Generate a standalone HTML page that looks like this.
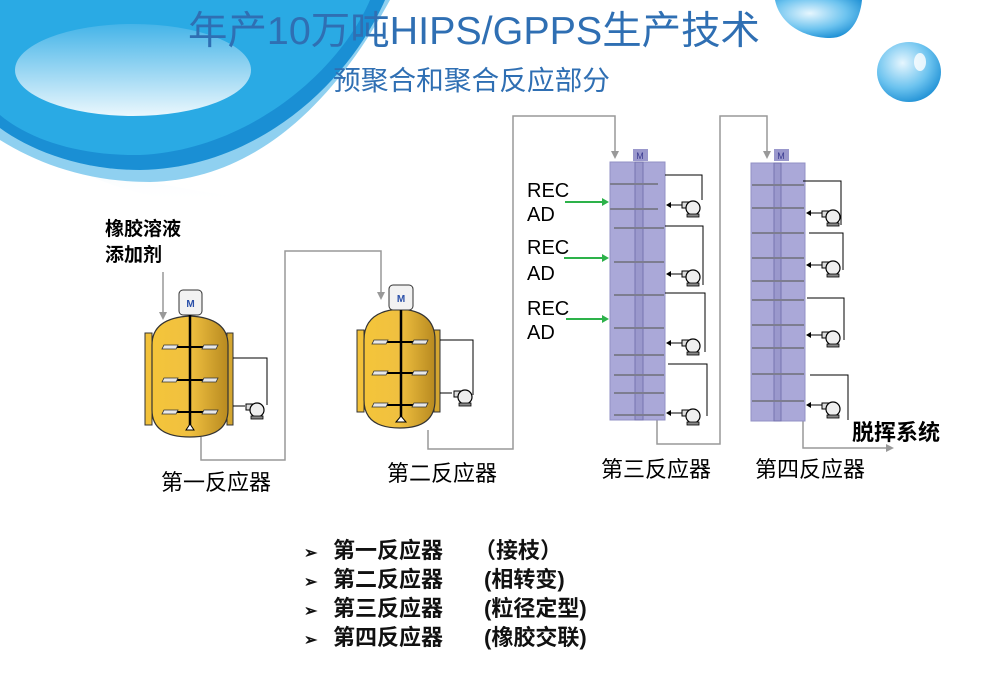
<!DOCTYPE html>
<html><head><meta charset="utf-8"><style>
html,body{margin:0;padding:0;background:#fff;}
svg{display:block;}
text{font-family:"Liberation Sans","Noto Sans CJK SC",sans-serif;}
</style></head><body>
<svg width="1000" height="674" viewBox="0 0 1000 674" xmlns="http://www.w3.org/2000/svg">
<defs>
<linearGradient id="below" x1="0" y1="0" x2="0" y2="1">
<stop offset="0" stop-color="#bfe3f6"/><stop offset="1" stop-color="#ffffff" stop-opacity="0"/>
</linearGradient>
<linearGradient id="lightc" x1="0" y1="0" x2="0" y2="1">
<stop offset="0" stop-color="#45b4e8"/><stop offset="1" stop-color="#eaf7fd"/>
</linearGradient>
<linearGradient id="yel" x1="0" y1="0" x2="1" y2="0">
<stop offset="0" stop-color="#f4c53a"/><stop offset="0.5" stop-color="#f0c040"/><stop offset="1" stop-color="#b88a20"/>
</linearGradient>
<radialGradient id="drop" cx="0.4" cy="0.35" r="0.7">
<stop offset="0" stop-color="#e6f6fe"/><stop offset="0.6" stop-color="#6cc3ef"/><stop offset="1" stop-color="#1d8fd4"/>
</radialGradient>
<g id="pump">
<rect x="-8" y="-6" width="8" height="6" fill="#ddd" stroke="#000" stroke-width="1"/>
<circle cx="3" cy="0" r="7" fill="#eee" stroke="#000" stroke-width="1.2"/>
<rect x="-3" y="6" width="12" height="3" fill="#888" stroke="#000" stroke-width="0.8"/>
</g>
<g id="paddle"><polygon points="0,0 14,0 12,4 -2,4" fill="#e8e8e8" stroke="#333" stroke-width="0.8"/></g>
</defs>
<!-- background swirl -->
<path d="M0,120 C60,170 150,215 260,200 C180,190 80,170 0,140 Z" fill="url(#below)"/>
<path d="M0,140 C40,165 90,182 150,182 C250,180 330,110 390,0 H0 Z" fill="#8fd0f0"/>
<path d="M0,0 H385 C350,80 260,168 140,170 C80,170 30,150 0,128 Z" fill="#1a8fd4"/>
<path d="M0,0 H370 C340,70 250,150 140,155 C80,156 30,140 0,115 Z" fill="#2aaae4"/>
<ellipse cx="133" cy="70" rx="118" ry="46" fill="url(#lightc)"/>
<!-- droplets -->
<path d="M775,0 C780,25 805,38 830,38 C850,38 860,20 862,0 Z" fill="url(#drop)"/>
<ellipse cx="909" cy="72" rx="32" ry="30" fill="url(#drop)"/>
<ellipse cx="920" cy="62" rx="6" ry="9" fill="#fff" opacity="0.8"/>
<!-- titles -->
<text x="188" y="44" font-size="39" fill="#2f6fb3" textLength="572" lengthAdjust="spacingAndGlyphs">年产10万吨HIPS/GPPS生产技术</text>
<text x="333" y="90" font-size="27" fill="#2f6fb3" textLength="277" lengthAdjust="spacingAndGlyphs">预聚合和聚合反应部分</text>

<!-- piping -->
<g fill="none" stroke="#999" stroke-width="1.5">
<polyline points="201,437 201,460 285,460 285,251 381,251 381,296"/>
<polyline points="163,272 163,316"/>
<polyline points="428,430 428,449 513,449 513,116 615,116 615,155"/>
<polyline points="657,420 657,444 720,444 720,116 767,116 767,155"/>
<polyline points="803,421 803,448 890,448"/>
</g>
<g fill="#999">
<polygon points="159,312 167,312 163,320"/>
<polygon points="377,292 385,292 381,300"/>
<polygon points="611,151 619,151 615,159"/>
<polygon points="763,151 771,151 767,159"/>
<polygon points="886,444 894,448 886,452"/>
</g>

<!-- reactor 1 -->
<rect x="145" y="333" width="7" height="92" fill="#f2c13a" stroke="#333" stroke-width="1"/>
<rect x="227" y="333" width="6" height="92" fill="#d4a630" stroke="#333" stroke-width="1"/>
<path d="M152,345 Q152,318 190,316 Q228,318 228,345 V410 Q228,437 190,437 Q152,437 152,410 Z" fill="url(#yel)" stroke="#333" stroke-width="1.2"/>
<rect x="179" y="290" width="23" height="25" rx="4" fill="#f2f2f2" stroke="#333"/>
<text x="190.5" y="307" font-size="10" fill="#2a4fa8" text-anchor="middle" font-weight="bold">M</text>
<line x1="190" y1="315" x2="190" y2="428" stroke="#000" stroke-width="2.5"/>
<g stroke="#000" stroke-width="2"><line x1="168" y1="347" x2="212" y2="347"/><line x1="168" y1="380" x2="212" y2="380"/><line x1="168" y1="412" x2="212" y2="412"/></g>
<use href="#paddle" x="164" y="345"/><use href="#paddle" x="204" y="345"/>
<use href="#paddle" x="164" y="378"/><use href="#paddle" x="204" y="378"/>
<use href="#paddle" x="164" y="410"/><use href="#paddle" x="204" y="410"/>
<polygon points="186,430 190,424 194,430" fill="#fff" stroke="#000"/>
<polyline points="233,358 267,358 267,405" fill="none" stroke="#000" stroke-width="1"/>
<line x1="233" y1="406" x2="245" y2="406" stroke="#000"/>
<use href="#pump" x="254" y="410"/>
<text x="105" y="235" font-size="19" font-weight="bold" fill="#000">橡胶溶液</text>
<text x="105" y="261" font-size="19" font-weight="bold" fill="#000">添加剂</text>
<text x="216" y="490" font-size="22" fill="#000" text-anchor="middle">第一反应器</text>

<!-- reactor 2 -->
<rect x="357" y="330" width="7" height="82" fill="#f2c13a" stroke="#333" stroke-width="1"/>
<rect x="434" y="330" width="6" height="82" fill="#d4a630" stroke="#333" stroke-width="1"/>
<path d="M364,340 Q364,311 400,309 Q435,311 435,340 V400 Q435,428 400,428 Q364,428 364,400 Z" fill="url(#yel)" stroke="#333" stroke-width="1.2"/>
<rect x="389" y="285" width="24" height="25" rx="4" fill="#f2f2f2" stroke="#333"/>
<text x="401" y="302" font-size="10" fill="#2a4fa8" text-anchor="middle" font-weight="bold">M</text>
<line x1="401" y1="310" x2="401" y2="420" stroke="#000" stroke-width="2.5"/>
<g stroke="#000" stroke-width="2"><line x1="378" y1="342" x2="422" y2="342"/><line x1="378" y1="373" x2="422" y2="373"/><line x1="378" y1="405" x2="422" y2="405"/></g>
<use href="#paddle" x="374" y="340"/><use href="#paddle" x="414" y="340"/>
<use href="#paddle" x="374" y="371"/><use href="#paddle" x="414" y="371"/>
<use href="#paddle" x="374" y="403"/><use href="#paddle" x="414" y="403"/>
<polygon points="396,422 401,416 406,422" fill="#fff" stroke="#000"/>
<polyline points="440,340 473,340 473,395" fill="none" stroke="#000"/>
<line x1="440" y1="393" x2="452" y2="393" stroke="#000"/>
<use href="#pump" x="462" y="397"/>
<text x="442" y="481" font-size="22" fill="#000" text-anchor="middle">第二反应器</text>

<!-- column 3 -->
<rect x="610" y="162" width="55" height="258" fill="#aaa8d8" stroke="#9290c4"/>
<rect x="635" y="162" width="8" height="258" fill="#9a98cc" stroke="#7775b0"/>
<rect x="633" y="149" width="15" height="12" fill="#9a98cc"/>
<text x="640" y="159" font-size="9" fill="#3a3a90" text-anchor="middle" font-family="Liberation Serif">M</text>
<g stroke="#7d7d90" stroke-width="2">
<line x1="610" y1="184" x2="658" y2="184"/><line x1="610" y1="209" x2="658" y2="209"/><line x1="614" y1="228" x2="664" y2="228"/>
<line x1="614" y1="262" x2="664" y2="262"/><line x1="614" y1="295" x2="664" y2="295"/><line x1="614" y1="328" x2="664" y2="328"/>
<line x1="614" y1="355" x2="664" y2="355"/><line x1="614" y1="375" x2="664" y2="375"/><line x1="614" y1="393" x2="664" y2="393"/><line x1="614" y1="415" x2="664" y2="415"/>
</g>
<g fill="none" stroke="#000" stroke-width="1">
<polyline points="665,175 702,175 702,200"/><polyline points="665,226 703,226 703,285"/>
<polyline points="665,293 705,293 705,352"/><polyline points="668,364 707,364 707,416"/>
</g>
<g stroke="#000"><line x1="668" y1="205" x2="682" y2="205"/><line x1="668" y1="274" x2="682" y2="274"/><line x1="668" y1="343" x2="682" y2="343"/><line x1="668" y1="413" x2="682" y2="413"/></g>
<g fill="#000"><polygon points="666,205 671,202 671,208"/><polygon points="666,274 671,271 671,277"/><polygon points="666,343 671,340 671,346"/><polygon points="666,413 671,410 671,416"/></g>
<use href="#pump" x="690" y="208"/><use href="#pump" x="690" y="277"/><use href="#pump" x="690" y="346"/><use href="#pump" x="690" y="416"/>
<g stroke="#2db24a" stroke-width="2"><line x1="565" y1="202" x2="604" y2="202"/><line x1="564" y1="258" x2="604" y2="258"/><line x1="566" y1="319" x2="604" y2="319"/></g>
<g fill="#2db24a"><polygon points="609,202 602,198 602,206"/><polygon points="609,258 602,254 602,262"/><polygon points="609,319 602,315 602,323"/></g>
<g font-size="20" fill="#000">
<text x="527" y="197">REC</text><text x="527" y="221">AD</text>
<text x="527" y="254">REC</text><text x="527" y="280">AD</text>
<text x="527" y="315">REC</text><text x="527" y="339">AD</text>
</g>
<text x="656" y="477" font-size="22" fill="#000" text-anchor="middle">第三反应器</text>

<!-- column 4 -->
<rect x="751" y="163" width="54" height="258" fill="#aaa8d8" stroke="#9290c4"/>
<rect x="774" y="163" width="7" height="258" fill="#9a98cc" stroke="#7775b0"/>
<rect x="774" y="149" width="15" height="12" fill="#9a98cc"/>
<text x="781" y="159" font-size="9" fill="#3a3a90" text-anchor="middle" font-family="Liberation Serif">M</text>
<g stroke="#7d7d90" stroke-width="2">
<line x1="752" y1="185" x2="804" y2="185"/><line x1="752" y1="208" x2="804" y2="208"/><line x1="752" y1="233" x2="804" y2="233"/>
<line x1="752" y1="258" x2="804" y2="258"/><line x1="752" y1="281" x2="804" y2="281"/><line x1="752" y1="300" x2="804" y2="300"/>
<line x1="752" y1="325" x2="804" y2="325"/><line x1="752" y1="348" x2="804" y2="348"/><line x1="752" y1="374" x2="804" y2="374"/><line x1="752" y1="401" x2="804" y2="401"/>
</g>
<g fill="none" stroke="#000" stroke-width="1">
<polyline points="803,181 841,181 841,225"/><polyline points="809,233 843,233 843,270"/>
<polyline points="807,298 844,298 844,340"/><polyline points="810,375 848,375 848,420"/>
</g>
<g stroke="#000"><line x1="808" y1="213" x2="823" y2="213"/><line x1="808" y1="265" x2="823" y2="265"/><line x1="808" y1="335" x2="823" y2="335"/><line x1="808" y1="405" x2="823" y2="405"/></g>
<g fill="#000"><polygon points="806,213 811,210 811,216"/><polygon points="806,265 811,262 811,268"/><polygon points="806,335 811,332 811,338"/><polygon points="806,405 811,402 811,408"/></g>
<use href="#pump" x="830" y="217"/><use href="#pump" x="830" y="268"/><use href="#pump" x="830" y="338"/><use href="#pump" x="830" y="409"/>
<text x="852" y="440" font-size="22" font-weight="bold" fill="#000">脱挥系统</text>
<text x="810" y="477" font-size="22" fill="#000" text-anchor="middle">第四反应器</text>

<!-- bullets -->
<g font-size="22" font-weight="bold" fill="#111">
<text x="304" y="558" font-size="16">➢</text><text x="333" y="558">第一反应器</text><text x="474" y="558">（接枝）</text>
<text x="304" y="587" font-size="16">➢</text><text x="333" y="587">第二反应器</text><text x="484" y="587">(相转变)</text>
<text x="304" y="616" font-size="16">➢</text><text x="333" y="616">第三反应器</text><text x="484" y="616">(粒径定型)</text>
<text x="304" y="645" font-size="16">➢</text><text x="333" y="645">第四反应器</text><text x="484" y="645">(橡胶交联)</text>
</g>
</svg>
</body></html>
